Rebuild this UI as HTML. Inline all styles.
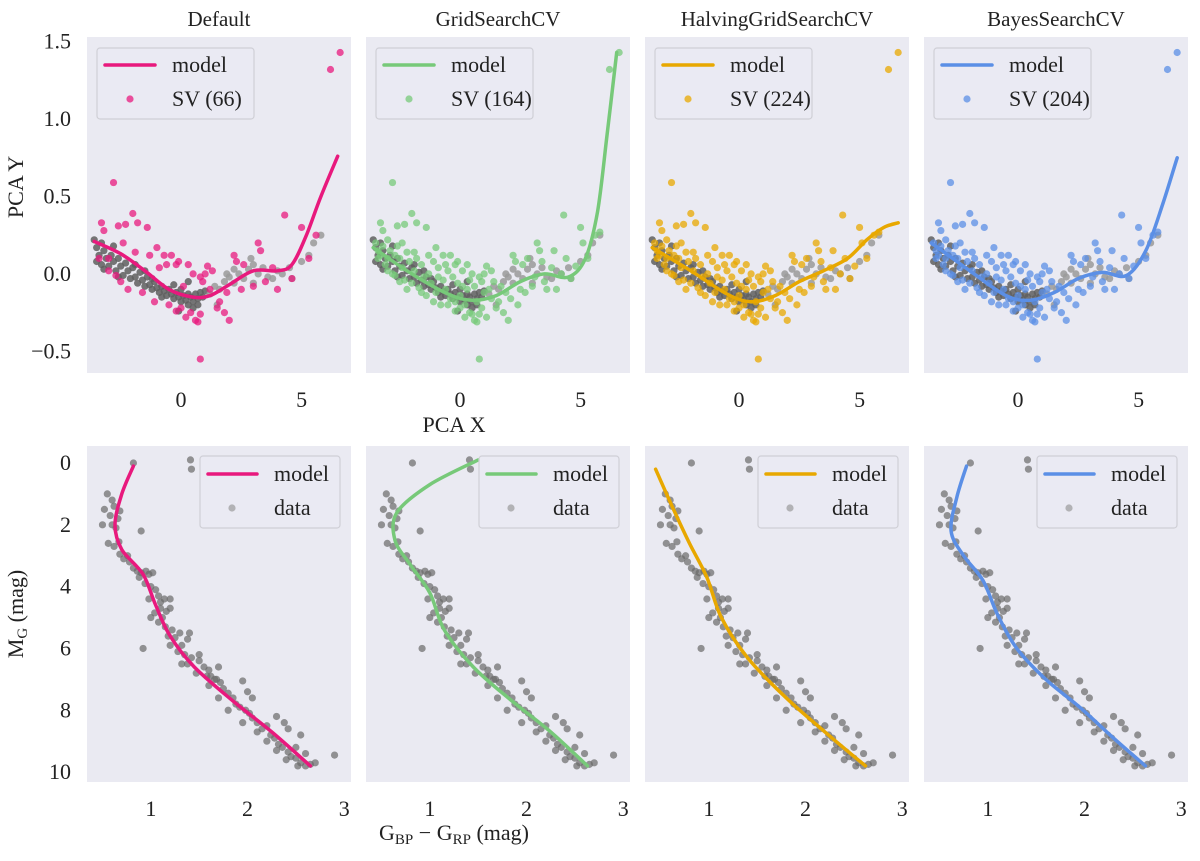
<!DOCTYPE html>
<html><head><meta charset="utf-8">
<style>
body{margin:0;background:#fff;}
svg{display:block;font-family:"Liberation Serif",serif;}
</style></head>
<body>
<svg id="fig" width="1200" height="861" viewBox="0 0 1200 861"></svg>
<script>
// ---- data ----
const panelTitles = ["Default","GridSearchCV","HalvingGridSearchCV","BayesSearchCV"];
const panelColors = ["#e8197d","#77c979","#e8a800","#5b8fe6"];
const svCounts = [66,164,224,204];
const topXTicks = [0,5];
const topYTicks = [-0.5,0.0,0.5,1.0,1.5];
const botXTicks = [1,2,3];
const botYTicks = [0,2,4,6,8,10];

const topGray = [[-3.6,0.22],[-3.5,0.17],[-3.4,0.12],[-3.5,0.08],[-3.3,0.2],[-3.2,0.15],[-3.1,0.1],[-3.0,0.05],[-3.2,0.03],[-2.9,0.12],[-2.8,0.08],[-2.7,0.02],[-2.6,0.1],[-2.5,0.05],[-2.4,-0.01],[-2.3,0.07],[-2.2,0.02],[-2.1,-0.03],[-2.0,0.04],[-1.9,-0.02],[-1.8,-0.06],[-1.7,0.01],[-1.6,-0.04],[-1.5,-0.08],[-1.4,-0.02],[-1.3,-0.07],[-1.2,-0.1],[-1.1,-0.05],[-1.0,-0.09],[-0.9,-0.12],[-0.8,-0.08],[-0.7,-0.11],[-0.6,-0.14],[-0.5,-0.1],[-0.4,-0.13],[-0.3,-0.16],[-0.2,-0.12],[-0.1,-0.15],[0,-0.18],[0.1,-0.14],[0.2,-0.17],[0.3,-0.2],[0.4,-0.15],[0.5,-0.18],[0.6,-0.13],[0.7,-0.16],[0.8,-0.12],[0.9,-0.15],[1.0,-0.11],[-2.8,0.18],[-1.5,0.02],[-0.3,-0.07],[-3.3,0.06],[-2.6,-0.02],[-1.9,0.06],[-1.2,-0.03],[-0.8,-0.15],[0.0,-0.1],[0.3,-0.13],[0.7,-0.2],
[1.2,-0.13],[1.4,-0.08],[1.6,-0.1],[1.8,-0.05],[2.0,-0.02],[2.2,-0.06],[2.4,0.0],[2.6,-0.03],[2.8,0.03],[3.0,0.06],[3.2,0.0],[3.4,0.04],[3.6,-0.02],[3.8,-0.03],[4.0,0.02],[4.2,0.0],[4.5,0.04],[4.6,-0.03],[5.0,0.08],[5.3,0.12],[5.5,0.2],[5.8,0.25],[1.5,-0.2],[3.0,-0.06],[2.2,0.03],[0.3,-0.05],[-0.1,-0.24],[0.5,-0.22],[2.9,0.1],[1.9,0.0]];

const svBase = [[-3.3,0.33],[-2.8,0.59],[-2.6,0.31],[-2.3,0.32],[-2.0,0.39],[-1.8,0.33],[-1.4,0.3],[-3.4,0.1],[-3.0,0.02],[-2.5,-0.05],[-2.2,-0.1],[-1.6,-0.12],[-1.1,-0.18],[-1.0,0.17],[-0.7,0.12],[-0.4,0.12],[-0.1,0.08],[0.3,0.06],[0.5,0.0],[0.8,-0.02],[1.1,0.05],[1.3,0.02],[-0.5,-0.2],[-0.2,-0.24],[0.0,-0.22],[0.2,-0.28],[0.6,-0.3],[0.8,-0.26],[1.5,-0.22],[1.8,-0.25],[2.2,0.12],[2.5,-0.1],[3.2,0.2],[3.3,0.15],[3.5,-0.05],[4.3,0.38],[4.6,-0.03],[5.0,0.3],[5.3,0.1],[5.6,0.25],[6.2,1.32],[6.6,1.43],[0.8,-0.55],[-3.0,0.1],[-1.3,0.12],[-0.6,0.06],[0.9,-0.05],[1.9,-0.12],[3.0,-0.08],[2.0,-0.3],[-2.7,-0.01],[-0.2,0.06],[0.1,-0.08],[1.2,-0.1],[2.6,0.06],[4.0,-0.1],[-1.9,0.14],[-3.2,0.28],[0.4,-0.25],[1.0,0.0],[2.3,0.08],[-0.9,0.04],[3.8,0.04],[-2.4,0.2],[0.7,-0.31],[1.6,-0.18]];
const svExtra = [[-3.5,0.2],[-3.4,0.15],[-3.3,0.12],[-3.2,0.18],[-3.1,0.06],[-3.0,0.22],[-2.9,0.15],[-2.8,0.0],[-2.7,0.12],[-2.6,0.18],[-2.5,0.1],[-2.4,0.04],[-2.3,-0.04],[-2.2,0.14],[-2.1,0.08],[-2.0,-0.06],[-1.9,0.02],[-1.8,0.1],[-1.7,-0.09],[-1.6,0.06],[-1.5,-0.02],[-1.4,-0.14],[-1.3,0.0],[-1.2,-0.06],[-1.1,0.08],[-1.0,-0.12],[-0.9,-0.02],[-0.8,-0.2],[-0.7,-0.04],[-0.6,-0.1],[-0.5,0.02],[-0.4,-0.16],[-0.3,-0.02],[-0.2,-0.18],[-0.1,-0.06],[0.0,-0.14],[0.1,0.02],[0.2,-0.2],[0.3,-0.1],[0.4,-0.04],[0.5,-0.26],[0.6,-0.08],[0.7,-0.18],[0.9,-0.22],[1.0,-0.12],[1.1,-0.28],[1.3,-0.16],[1.4,-0.05],[1.7,-0.08],[2.1,-0.16],[2.4,-0.2],[2.7,-0.12],[2.8,0.1],[3.1,-0.02],[3.4,0.08],[3.6,-0.1],[3.9,0.15],[4.2,0.0],[4.4,0.1],[4.8,0.05],[5.1,0.2],[5.8,0.27]];

const botGray = [[0.82,0.0],[1.41,-0.1],[1.42,0.2],[0.55,1.0],[0.6,1.2],[0.52,1.5],[0.62,1.4],[0.68,1.55],[0.58,1.7],[0.66,1.8],[0.5,2.0],[0.6,2.0],[0.64,2.1],[0.56,2.6],[0.62,2.7],[0.67,2.55],[0.9,2.2],[0.68,2.95],[0.72,3.1],[0.78,3.2],[0.76,3.0],[0.82,3.4],[0.86,3.5],[0.9,3.55],[0.95,3.5],[0.98,3.6],[1.02,3.55],[0.88,3.7],[0.94,3.9],[1.0,4.0],[1.05,4.1],[1.08,4.3],[0.98,4.4],[1.1,4.5],[1.14,4.4],[1.2,4.4],[1.1,4.7],[1.04,4.85],[1.0,5.0],[1.12,5.0],[1.16,4.8],[1.2,4.7],[1.08,5.15],[1.15,5.3],[1.22,5.4],[1.18,5.6],[1.25,5.65],[1.3,5.5],[1.4,5.5],[1.38,5.7],[1.2,5.9],[1.32,5.9],[1.28,6.1],[1.35,6.2],[1.42,6.3],[1.5,6.2],[1.5,6.4],[1.38,6.5],[1.55,6.6],[1.6,6.7],[1.47,6.8],[1.62,6.9],[1.66,7.0],[1.72,7.1],[1.6,7.2],[1.75,7.3],[1.8,7.45],[1.7,7.6],[1.85,7.6],[1.88,7.8],[1.92,7.9],[1.8,8.0],[1.98,8.0],[2.02,8.1],[2.05,8.25],[1.95,8.4],[2.1,8.4],[2.15,8.6],[2.2,8.5],[2.1,8.7],[2.24,8.8],[2.28,8.9],[2.2,9.0],[2.32,9.1],[2.36,9.2],[2.3,9.3],[2.42,9.35],[2.45,9.5],[2.4,9.6],[2.5,9.55],[2.55,9.7],[2.6,9.8],[2.52,9.8],[2.65,9.75],[2.7,9.7],[0.92,6.0],[1.68,7.0],[1.7,6.6],[2.05,7.6],[2.3,8.2],[2.42,8.6],[2.55,8.8],[2.5,9.2],[1.95,7.05],[2.9,9.45],[1.32,6.5],[1.58,6.9],[2.0,7.4],[2.38,8.4],[2.6,9.4]];

const topModels = [
 [[-3.6,0.21],[-2.5,0.13],[-1.5,0.02],[-0.5,-0.1],[0.5,-0.15],[1.2,-0.14],[2,-0.07],[3,0.02],[4,0.02],[4.6,0.06],[5.2,0.25],[5.8,0.5],[6.5,0.76]],
 [[-3.6,0.17],[-2,0.0],[-0.5,-0.13],[0.5,-0.17],[1.5,-0.14],[2.5,-0.05],[3.5,0.0],[4.5,-0.02],[5.2,0.1],[5.7,0.4],[6.1,0.9],[6.5,1.43]],
 [[-3.6,0.17],[-2,0.02],[-0.5,-0.13],[0.5,-0.18],[1.5,-0.14],[2.5,-0.05],[3.5,0.02],[4.5,0.1],[5.3,0.22],[6,0.3],[6.6,0.33]],
 [[-3.6,0.2],[-2,0.02],[-0.5,-0.14],[0.5,-0.17],[1.5,-0.12],[2.5,-0.03],[3.5,0.01],[4.5,-0.01],[5.3,0.15],[6,0.45],[6.6,0.75]]
];
const botModels = [
 [[0.82,0.1],[0.70,1.0],[0.63,2.0],[0.70,2.8],[0.92,3.6],[1.05,4.6],[1.2,5.6],[1.45,6.6],[1.85,7.7],[2.25,8.7],[2.65,9.8]],
 [[1.5,-0.1],[1.0,0.7],[0.66,1.6],[0.64,2.5],[0.80,3.3],[1.0,4.2],[1.15,5.4],[1.45,6.6],[1.85,7.7],[2.25,8.7],[2.63,9.8]],
 [[0.45,0.2],[0.62,1.4],[0.8,2.6],[0.98,3.7],[1.13,5.0],[1.4,6.3],[1.8,7.6],[2.2,8.7],[2.62,9.8]],
 [[0.78,0.1],[0.68,1.1],[0.62,2.2],[0.75,3.0],[0.95,3.8],[1.1,4.9],[1.3,6.0],[1.6,7.0],[1.95,7.9],[2.3,8.9],[2.63,9.8]]
];

// ---- layout ----
const NS="http://www.w3.org/2000/svg";
const svg=document.getElementById('fig');
const PW=264, STRIDE=279, X0=87, FS=22;
const TOP={y0:37,y1:373,xmin:-3.9,xmax:7.05,ymin:-0.64,ymax:1.53};
const BOT={y0:446,y1:782,xmin:0.34,xmax:3.07,ymin:-0.55,ymax:10.32};
function el(tag,attrs,parent){const e=document.createElementNS(NS,tag);for(const k in attrs)e.setAttribute(k,attrs[k]);(parent||svg).appendChild(e);return e;}
function sx(L,px,v){return px+(v-L.xmin)/(L.xmax-L.xmin)*PW;}
function syTop(v){return TOP.y1-(v-TOP.ymin)/(TOP.ymax-TOP.ymin)*(TOP.y1-TOP.y0);}
function syBot(v){return BOT.y0+(v-BOT.ymin)/(BOT.ymax-BOT.ymin)*(BOT.y1-BOT.y0);}
function smooth(pts){let d='M'+pts[0][0].toFixed(1)+','+pts[0][1].toFixed(1);
 for(let i=0;i<pts.length-1;i++){const p0=pts[Math.max(0,i-1)],p1=pts[i],p2=pts[i+1],p3=pts[Math.min(pts.length-1,i+2)];
  const c1=[p1[0]+(p2[0]-p0[0])/6,p1[1]+(p2[1]-p0[1])/6],c2=[p2[0]-(p3[0]-p1[0])/6,p2[1]-(p3[1]-p1[1])/6];
  d+=' C'+c1[0].toFixed(1)+','+c1[1].toFixed(1)+' '+c2[0].toFixed(1)+','+c2[1].toFixed(1)+' '+p2[0].toFixed(1)+','+p2[1].toFixed(1);}
 return d;}
function text(str,x,y,size,anchor,parent){const t=el('text',{x:x,y:y,'font-size':size,'text-anchor':anchor||'middle',fill:'#222'},parent);t.textContent=str;return t;}

for(let p=0;p<4;p++){
 const px=X0+p*STRIDE, col=panelColors[p];
 // ---- top panel ----
 const gT=el('g',{});
 
 
 const bg=el('rect',{x:px,y:TOP.y0,width:PW,height:TOP.y1-TOP.y0,fill:'#eaeaf2'},gT);
 
 
 const tt=text(panelTitles[p],px+PW/2,26,21,'middle',gT);
 
 
 topXTicks.forEach(v=>{const t=text(String(v),sx(TOP,px,v),407,FS,'middle',gT);
  
  });
 if(p===0){topYTicks.forEach(v=>{const t=text(v<0?'\u2212'+Math.abs(v).toFixed(1):v.toFixed(1),71,syTop(v)+7,FS,'end',gT);
  
  });}
 topGray.forEach(d=>{const c=el('circle',{cx:sx(TOP,px,d[0]),cy:syTop(d[1]),r:3.6,fill:d[0]<1.1?'#5f5f5f':'#9a9a9a','fill-opacity':0.85},gT);
  
  });
 const svs=p===0?svBase:svBase.concat(svExtra);
 svs.forEach(d=>{const c=el('circle',{cx:sx(TOP,px,d[0]),cy:syTop(d[1]),r:3.6,fill:col,'fill-opacity':0.75},gT);
  
  });
 const mt=el('path',{d:smooth(topModels[p].map(d=>[sx(TOP,px,d[0]),syTop(d[1])])),fill:'none',stroke:col,'stroke-width':3.5,'stroke-linecap':'round'},gT);
 
 
 const lg=el('g',{},gT);
 
 
 el('rect',{x:px+10,y:48,width:157,height:71,rx:3,fill:'#eaeaf2','fill-opacity':0.8,stroke:'#cfcfd6','stroke-width':1.2},lg);
 el('line',{x1:px+18,y1:65,x2:px+68,y2:65,stroke:col,'stroke-width':3.5,'stroke-linecap':'round'},lg);
 text('model',px+85,72,FS,'start',lg);
 el('circle',{cx:px+43,cy:99,r:3.6,fill:col,'fill-opacity':0.75},lg);
 text('SV ('+svCounts[p]+')',px+85,106,FS,'start',lg);

 // ---- bottom panel ----
 const gB=el('g',{});
 
 
 const bg2=el('rect',{x:px,y:BOT.y0,width:PW,height:BOT.y1-BOT.y0,fill:'#eaeaf2'},gB);
 
 
 botXTicks.forEach(v=>{const t=text(String(v),sx(BOT,px,v),816,FS,'middle',gB);
  
  });
 if(p===0){botYTicks.forEach(v=>{const t=text(String(v),71,syBot(v)+7,FS,'end',gB);
  
  });}
 botGray.forEach(d=>{const c=el('circle',{cx:sx(BOT,px,d[0]),cy:syBot(d[1]),r:3.6,fill:'#6a6a6a','fill-opacity':0.7},gB);
  
  });
 const mb=el('path',{d:smooth(botModels[p].map(d=>[sx(BOT,px,d[0]),syBot(d[1])])),fill:'none',stroke:col,'stroke-width':3.5,'stroke-linecap':'round'},gB);
 
 
 const lg2=el('g',{},gB);
 
 
 el('rect',{x:px+113,y:456,width:140,height:72,rx:3,fill:'#eaeaf2','fill-opacity':0.8,stroke:'#cfcfd6','stroke-width':1.2},lg2);
 el('line',{x1:px+121,y1:474,x2:px+170,y2:474,stroke:col,'stroke-width':3.5,'stroke-linecap':'round'},lg2);
 text('model',px+187,481,FS,'start',lg2);
 el('circle',{cx:px+145,cy:508,r:3.6,fill:'#9a9a9a','fill-opacity':0.7},lg2);
 text('data',px+187,515,FS,'start',lg2);
}
// axis labels
let a=text('PCA X',454,432,FS,'middle');


a=text('PCA Y',0,0,FS,'middle');a.setAttribute('transform','translate(23,187) rotate(-90)');


a=el('text',{x:0,y:0,'font-size':FS,'text-anchor':'middle',fill:'#222',transform:'translate(23,614) rotate(-90)'});
a.innerHTML='M<tspan font-size="15" dy="4">G</tspan><tspan dy="-4"> (mag)</tspan>';


a=el('text',{x:454,y:840,'font-size':FS,'text-anchor':'middle',fill:'#222'});
a.innerHTML='G<tspan font-size="15" dy="4">BP</tspan><tspan dy="-4"> \u2212 G</tspan><tspan font-size="15" dy="4">RP</tspan><tspan dy="-4"> (mag)</tspan>';


</script>
</body></html>
